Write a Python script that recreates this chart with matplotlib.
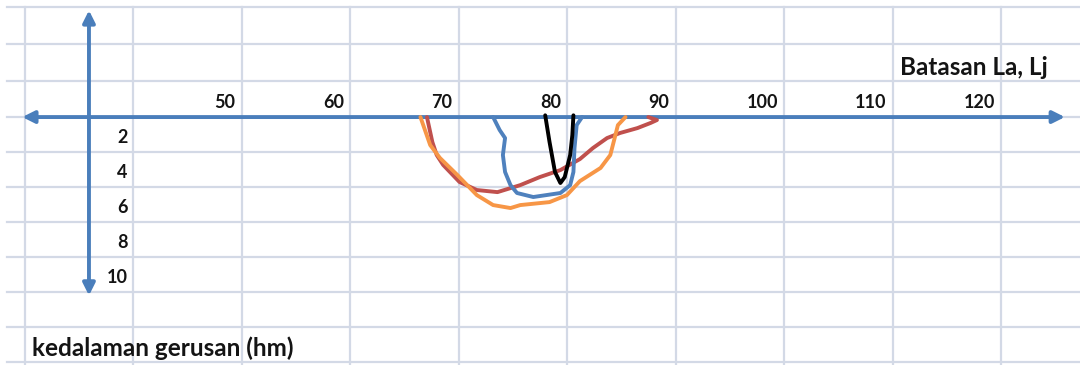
import matplotlib
matplotlib.use("Agg")
from matplotlib import pyplot as plt

# data (x = Batasan La, Lj ; depth = kedalaman gerusan)
x_labels = [50, 60, 70, 80, 90, 100, 110, 120]
depth_labels = [2, 4, 6, 8, 10]

orange_x = [68.2, 69.1, 70.0, 71.6, 73.4, 74.9, 76.5, 77.4, 80.1, 81.7, 82.9, 84.8, 85.7, 86.1, 86.4, 87.1]
orange_d = [0.0, 1.6, 2.34, 3.31, 4.46, 5.03, 5.2, 5.03, 4.86, 4.46, 3.66, 2.91, 2.17, 1.2, 0.46, 0.0]

red_x = [68.8, 69.3, 69.7, 70.3, 71.8, 73.4, 75.3, 77.4, 79.2, 81.1, 82.9, 84.1, 85.4, 86.6, 88.2, 89.4, 90.0, 89.2]
red_d = [0.0, 1.43, 2.17, 2.74, 3.71, 4.17, 4.29, 3.89, 3.43, 3.03, 2.4, 1.77, 1.2, 0.91, 0.63, 0.34, 0.17, 0.0]

blue_x = [74.9, 75.5, 76.0, 75.8, 76.0, 76.5, 77.1, 78.6, 81.1, 82.0, 82.3, 82.4, 82.6, 83.1]
blue_d = [0.0, 0.74, 1.2, 2.17, 3.14, 3.89, 4.34, 4.57, 4.34, 3.89, 3.14, 1.77, 0.46, 0.0]

black_x = [79.7, 80.1, 80.6, 81.1, 81.5, 82.0, 82.2, 82.3]
black_d = [-0.1, 1.43, 3.14, 3.77, 3.43, 2.17, 1.03, -0.1]

# spreadsheet cell grid
col_edges = [31.75 + 10 * k for k in range(10)]
row_edges = [-6.3, -4.2, -2.05, 0, 2, 4, 6, 8, 10, 12, 14]

axis_blue = "#4A7EBB"
grid_col = "#D3D9E6"
txt_col = "#141414"
font = "Lato"

fig = plt.figure(figsize=(10.8, 3.65), dpi=100)
ax = fig.add_axes([0, 0, 1, 1])
ax.set_xlim(29.45, 128.99)
ax.set_ylim(14.17, -6.69)
ax.axis("off")

for c in col_edges:
    ax.plot([c, c], [-6.3, 14.5], color=grid_col, lw=1.6, zorder=1)
for r in row_edges:
    ax.plot([30.1, 130], [r, r], color=grid_col, lw=1.6, zorder=1)

# axes drawn as arrows
ax.annotate("", xy=(127.6, 0), xytext=(31.5, 0),
            arrowprops=dict(arrowstyle="<|-|>", color=axis_blue, lw=2.8,
                            mutation_scale=18, shrinkA=0, shrinkB=0), zorder=3)
ax.annotate("", xy=(37.65, -6.1), xytext=(37.65, 10.2),
            arrowprops=dict(arrowstyle="<|-|>", color=axis_blue, lw=2.8,
                            mutation_scale=18, shrinkA=0, shrinkB=0), zorder=3)

# curves
style = dict(lw=2.8, solid_capstyle="round", solid_joinstyle="round")
ax.plot(red_x, red_d, color="#C0504D", zorder=4, **style)
ax.plot(orange_x, orange_d, color="#F79646", zorder=5, **style)
ax.plot(blue_x, blue_d, color="#4F81BD", zorder=4, **style)
ax.plot(black_x, black_d, color="black", zorder=6, **style)

# tick labels as spreadsheet text
for v in x_labels:
    ax.text(v + 1.15, -0.85, str(v), ha="right", va="center", fontsize=13,
            family=font, fontweight="bold", color=txt_col, zorder=7)
for v in depth_labels:
    ax.text(41.2, v - 0.85, str(v), ha="right", va="center", fontsize=13,
            family=font, fontweight="bold", color=txt_col, zorder=7)

ax.text(112.4, -2.85, "Batasan La, Lj", ha="left", va="center", fontsize=17.5,
        family=font, fontweight="bold", color=txt_col)
ax.text(32.4, 13.2, "kedalaman gerusan (hm)", ha="left", va="center", fontsize=17.5,
        family=font, fontweight="bold", color=txt_col)

fig.savefig("out.png", dpi=100)
